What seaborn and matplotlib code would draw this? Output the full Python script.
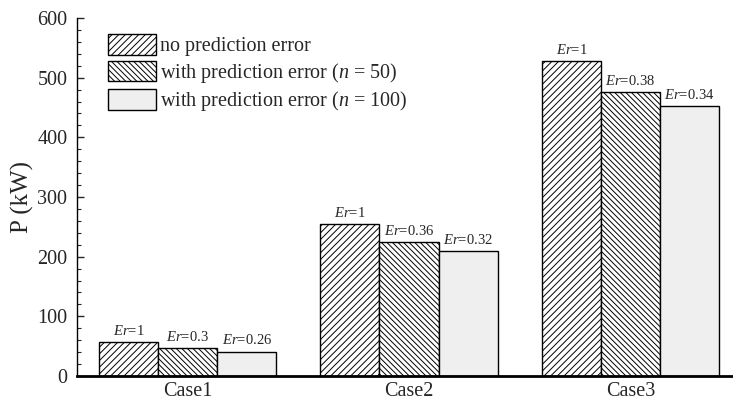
import matplotlib
matplotlib.use("Agg")
import matplotlib.pyplot as plt
import seaborn as sns
import pandas as pd
from matplotlib.ticker import MultipleLocator

cases = ["Case1", "Case2", "Case3"]
scenarios = [
    "no prediction error",
    "with prediction error ($n$ = 50)",
    "with prediction error ($n$ = 100)",
]
p_no_error = [57, 255, 528]
p_n50 = [47, 225, 476]
p_n100 = [41, 210, 453]
er_no_error = ["1", "1", "1"]
er_n50 = ["0.3", "0.36", "0.38"]
er_n100 = ["0.26", "0.32", "0.34"]

df = pd.DataFrame({
    "case": cases * 3,
    "P": p_no_error + p_n50 + p_n100,
    "scenario": [scenarios[0]] * 3 + [scenarios[1]] * 3 + [scenarios[2]] * 3,
})

sns.set_theme(style="ticks")
plt.rcParams["font.family"] = ["Liberation Serif", "DejaVu Serif"]
plt.rcParams["mathtext.fontset"] = "custom"
plt.rcParams["mathtext.rm"] = "Liberation Serif"
plt.rcParams["mathtext.it"] = "Liberation Serif:italic"
plt.rcParams["hatch.linewidth"] = 0.7

fig = plt.figure(figsize=(7.33, 4.0), dpi=100)
ax = fig.add_axes([77 / 733, 24 / 400, 664 / 733, 358 / 400])

sns.barplot(
    data=df, x="case", y="P", hue="scenario", hue_order=scenarios,
    palette=["white", "white", "#efefef"], saturation=1, width=0.8,
    edgecolor="black", linewidth=1.0, ax=ax, legend=False,
)

hatches = ["/////", "\\\\\\\\\\\\", ""]
er_labels = [er_no_error, er_n50, er_n100]
for cont, hatch, labels in zip(ax.containers, hatches, er_labels):
    for patch in cont.patches:
        patch.set_hatch(hatch)
    ax.bar_label(cont, labels=[f"$Er$={v}" for v in labels],
                 padding=3, fontsize=10.5)

ax.set_xlim(-0.5, 2.5)
ax.set_ylim(0, 600)
ax.yaxis.set_major_locator(MultipleLocator(100))
ax.yaxis.set_minor_locator(MultipleLocator(20))
ax.tick_params(axis="y", which="major", direction="in", length=5, width=1,
               labelsize=14.5, pad=7)
ax.tick_params(axis="y", which="minor", direction="in", length=3, width=0.8)
ax.tick_params(axis="x", which="both", length=0, labelsize=14.5, pad=4.5)
ax.set_xlabel("")
ax.set_ylabel("P (kW)", fontsize=18, labelpad=2)

for side in ["top", "right"]:
    ax.spines[side].set_visible(False)
ax.spines["left"].set_linewidth(1.0)
ax.spines["bottom"].set_linewidth(2.0)
ax.spines["left"].set_color("black")
ax.spines["bottom"].set_color("black")

handles = [cont.patches[0] for cont in ax.containers]
fig.legend(
    handles, scenarios, loc="upper left",
    bbox_to_anchor=(108 / 733, 1 - 34 / 400), bbox_transform=fig.transFigure,
    frameon=False, fontsize=14.5, handlelength=2.39, handleheight=1.2,
    handletextpad=0.2, labelspacing=0.22, borderpad=0, borderaxespad=0,
)

fig.savefig("out.png", dpi=100)
